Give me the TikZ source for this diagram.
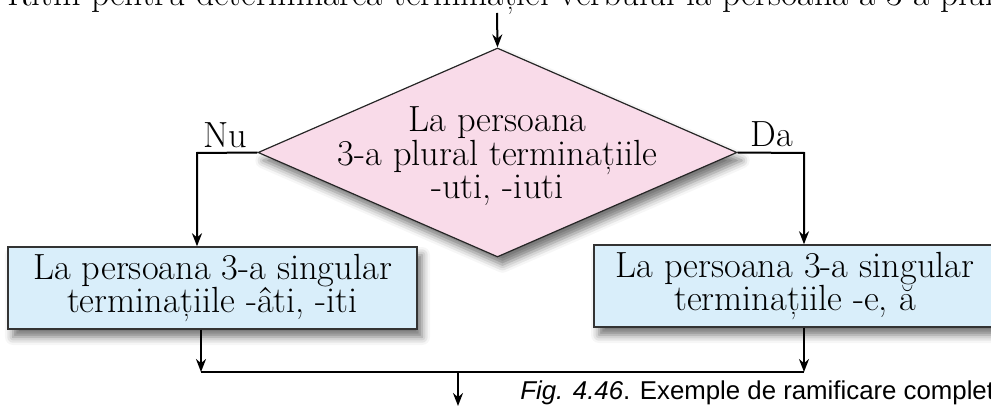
\documentclass[tikz,border=0pt]{standalone}
\usepackage{fontspec}
\newfontfamily\capfont{Liberation Sans}
\usepackage{tikz}
\usetikzlibrary{shapes,arrows.meta,positioning,calc,shadows.blur}

\definecolor{roz}{HTML}{F9DBE9}
\definecolor{bleu}{HTML}{D9EEFA}

\begin{document}
\begin{tikzpicture}[x=0.5pt, y=-0.5pt,
    every node/.style={font=\fontsize{18.2}{16.7}\selectfont},
    umbra/.style={blur shadow={shadow xshift=2.5pt, shadow yshift=-4pt, shadow blur radius=4pt, shadow opacity=55}},
    decizie/.style={diamond, draw=black!85, line width=0.6pt, fill=roz, umbra, inner sep=0pt, minimum width=239.5pt, minimum height=104.5pt},
    bloc/.style={rectangle, draw=black!80, line width=0.75pt, fill=bleu, umbra, inner sep=0pt, minimum height=41pt, align=center},
    sageata/.style={line width=1pt, -{Stealth[length=6.5pt, width=5pt]}},
    linie/.style={line width=1pt}]

    \useasboundingbox (0,0) rectangle (991,406);

    % 1. Titlu (taiat sus)
    \node[anchor=base west, inner sep=0pt, font=\fontsize{17.8}{17.8}\selectfont] (titlu) at (7,6) {Ritm pentru determinarea terminației verbului la persoana a 3-a plural};

    % 2. Decizia (romb gol + text separat)
    \node[decizie] (dec) at (497.5,152.5) {};
    \node[align=center, inner sep=0pt, yshift=-2pt] (dectext) at (dec.center) {La persoana\\3-a plural terminațiile\\-uti, -iuti};

    % 3. Blocurile
    \node[bloc, minimum width=204.5pt] (stanga) at (212.5,288) {La persoana 3-a singular\\terminațiile -âti, -iti};
    \node[bloc, minimum width=201pt] (dreapta) at (795,286) {La persoana 3-a singular\\terminațiile -e, ă};

    % 4. Puncte de legatura
    \coordinate (intrare) at (497,13);
    \coordinate (nu) at (197,153);
    \coordinate (da) at (804,153);
    \coordinate (js) at (201,372);
    \coordinate (jd) at (804,372);
    \coordinate (jos) at (458,372);
    \coordinate (iesire) at (458,406);

    % 5. Sagetile
    \draw[sageata] (intrare) -- (dec.north);
    \draw[sageata] (dec.west) -- (nu) -- (nu |- stanga.north);
    \draw[sageata] (dec.east) -- (da) -- (da |- dreapta.north);
    \draw[sageata] (js |- stanga.south) -- (js);
    \draw[sageata] (jd |- dreapta.south) -- (jd);
    \draw[linie] (js) -- (jd);
    \draw[sageata] (jos) -- (iesire);

    % 6. Etichete Nu / Da
    \node[anchor=base, inner sep=0pt] (etnu) at (225,148) {Nu};
    \node[anchor=base, inner sep=0pt] (etda) at (772,147) {Da};

    % 7. Legenda
    \node[anchor=base west, inner sep=0pt, font=\capfont\fontsize{12.9}{14}\selectfont] (figura) at (520,400) {\textit{Fig. 4.46}. Exemple de ramificare completă};

\end{tikzpicture}
\end{document}
